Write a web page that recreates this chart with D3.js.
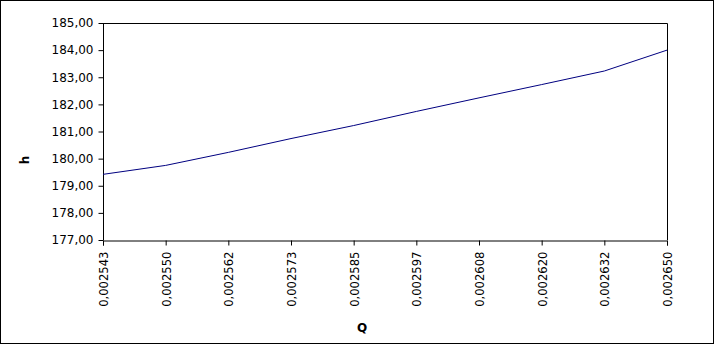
<!DOCTYPE html>
<html><head><meta charset="utf-8">
<script src="https://cdn.jsdelivr.net/npm/d3@7"></script>
<style>body{margin:0;background:#fff}svg{display:block}</style>
</head><body>
<script>
const categories = ["0,002543","0,002550","0,002562","0,002573","0,002585","0,002597","0,002608","0,002620","0,002632","0,002650"];
const hValues = [179.42, 179.75, 180.23, 180.74, 181.22, 181.74, 182.24, 182.73, 183.23, 184.0];
const yTicks = [177,178,179,180,181,182,183,184,185];

const W = 714, H = 344;
const m = {left:103, right:667, top:23, bottom:240};
const svg = d3.select("body").append("svg").attr("width",W).attr("height",H);
svg.append("rect").attr("x",0.5).attr("y",0.5).attr("width",W-1).attr("height",H-1)
  .attr("fill","#fff").attr("stroke","#000");

const x = d3.scalePoint().domain(categories).range([m.left, m.right]);
const y = d3.scaleLinear().domain([177,185]).range([m.bottom, m.top]);
const font = "DejaVu Sans, sans-serif";

// plot frame (top & right)
svg.append("path").attr("d",`M${m.left},${m.top+0.5}H${m.right+0.5}V${m.bottom}`)
  .attr("fill","none").attr("stroke","#000");

const ya = svg.append("g").attr("transform",`translate(${m.left+0.5},0)`)
  .call(d3.axisLeft(y).tickValues(yTicks).tickSize(5).tickPadding(5)
    .tickFormat(d => d3.format(".2f")(d).replace(".",",")));
const xa = svg.append("g").attr("transform",`translate(0,${m.bottom+0.5})`)
  .call(d3.axisBottom(x).tickSize(5).tickPadding(0));
[ya,xa].forEach(g=>{
  g.selectAll("path,line").attr("stroke","#000");
  g.selectAll("text").attr("font-family",font).attr("fill","#000");
});
ya.selectAll("text").attr("font-size","12px");
ya.select(".domain").attr("d",`M0,${m.top}V${m.bottom}`);
xa.selectAll("text").attr("font-size","11.6px").attr("transform","rotate(-90)")
  .attr("text-anchor","end").attr("x",-11).attr("y",0.5).attr("dy","0.35em");

svg.append("path").datum(hValues)
  .attr("fill","none").attr("stroke","#000080").attr("stroke-width",1)
  .attr("d", d3.line().x((d,i)=>x(categories[i])).y(d=>y(d)));

svg.append("text").attr("x",362).attr("y",332).attr("text-anchor","middle")
  .attr("font-family",font).attr("font-weight","bold").attr("font-size","12px").text("Q");
svg.append("text").attr("transform","translate(29,160) rotate(-90)").attr("text-anchor","middle")
  .attr("font-family",font).attr("font-weight","bold").attr("font-size","12px").text("h");
</script>
</body></html>
